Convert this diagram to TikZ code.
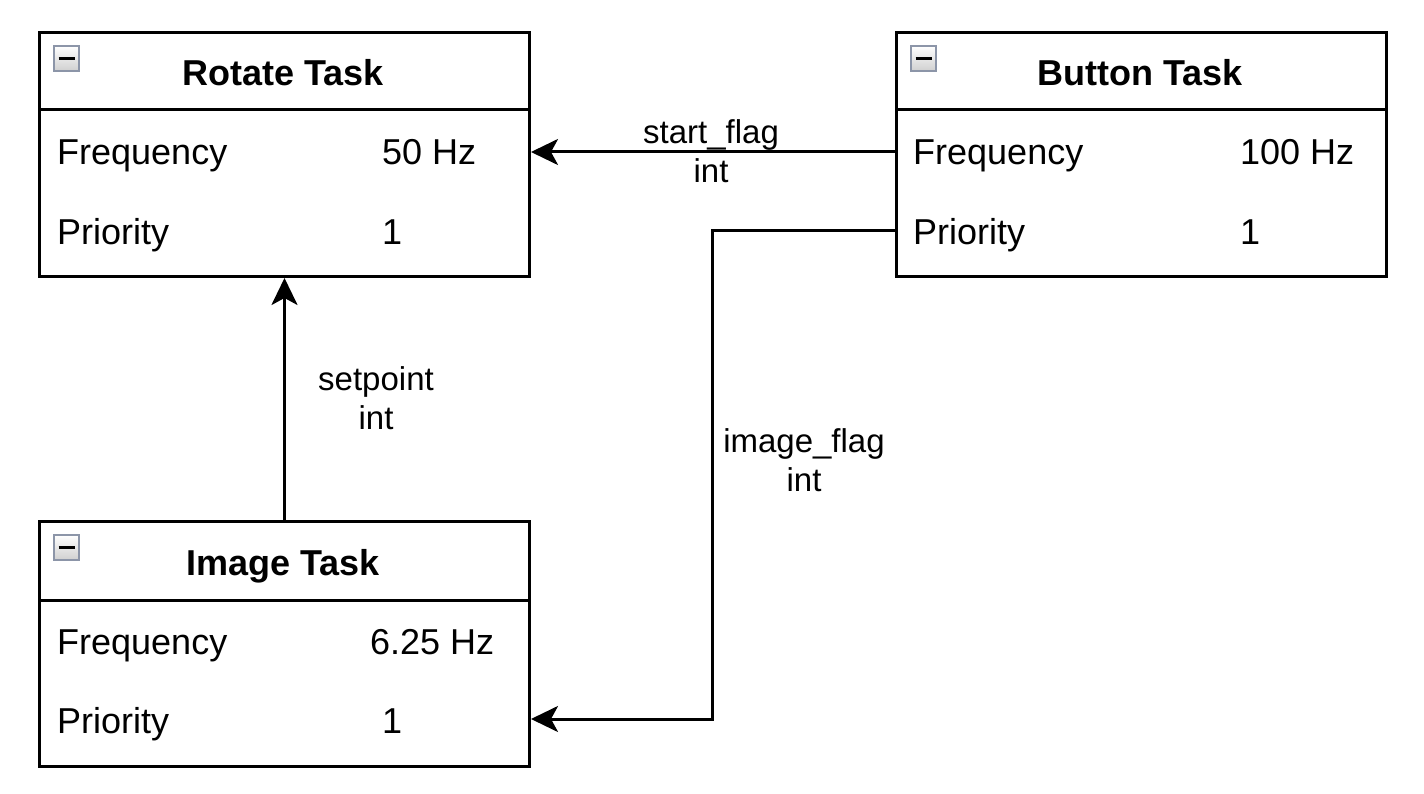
\documentclass[tikz,border=0pt]{standalone}
\usepackage{fontspec}
\setmainfont{Liberation Sans}
\usetikzlibrary{arrows.meta,calc}
\newcommand\myrowf{\fontsize{36}{43}\selectfont}
\newcommand\mytitf{\fontsize{36}{43}\selectfont\bfseries}
\newcommand\mylabf{\fontsize{33}{39}\selectfont}
\tikzset{
  taskbox/.style={draw=black, line width=3pt, fill=white, rectangle, inner sep=0pt, anchor=north west},
  rowtxt/.style={inner sep=0pt, anchor=base west, font=\myrowf},
  titletxt/.style={inner sep=0pt, anchor=base, font=\mytitf},
  lbl/.style={inner sep=0pt, align=center, font=\mylabf},
  conn/.style={draw=black, line width=3pt, -{Stealth[length=27pt, width=26pt, inset=7pt]}},
  icon/.style={draw=iconborder, line width=2.5pt, top color=white, bottom color=icongrey, minimum width=25pt, minimum height=25pt, inner sep=0pt, rectangle},
}
\definecolor{iconborder}{HTML}{8C95A8}
\definecolor{icongrey}{HTML}{CFCFCF}
\newcommand\myicon[2]{%
  \node[icon] (#1) at (#2) {};
  \draw[line width=3pt] ($(#1.center)+(-8,0)$) -- ($(#1.center)+(8,0)$);
}
\begin{document}
\begin{tikzpicture}[x=1pt, y=-1pt]
\useasboundingbox[fill=white] (0,0) rectangle (1424,794);

% Rotate Task
\node[taskbox, minimum width=490pt, minimum height=244pt] (rot) at (38,31) {};
\draw[line width=3pt] (38,110) -- (528,110);
\myicon{roticon}{66.5,58.5}
\node[titletxt] (rottitle) at (283,86) {Rotate Task};
\node[rowtxt] (rotf) at (57,165) {Frequency};
\node[rowtxt] (rotfv) at (382,165) {50 Hz};
\node[rowtxt] (rotp) at (57,245) {Priority};
\node[rowtxt] (rotpv) at (382,245) {1};

% Button Task
\node[taskbox, minimum width=490pt, minimum height=244pt] (btn) at (895,31) {};
\draw[line width=3pt] (895,110) -- (1385,110);
\myicon{btnicon}{923.5,58.5}
\node[titletxt] (btntitle) at (1140,86) {Button Task};
\node[rowtxt] (btnf) at (913,165) {Frequency};
\node[rowtxt] (btnfv) at (1240,165) {100 Hz};
\node[rowtxt] (btnp) at (913,245) {Priority};
\node[rowtxt] (btnpv) at (1240,245) {1};

% Image Task
\node[taskbox, minimum width=490pt, minimum height=245pt] (img) at (38,520) {};
\draw[line width=3pt] (38,600) -- (528,600);
\myicon{imgicon}{66.5,547.5}
\node[titletxt] (imgtitle) at (283,575) {Image Task};
\node[rowtxt] (imgf) at (57,654) {Frequency};
\node[rowtxt] (imgfv) at (370,654) {6.25 Hz};
\node[rowtxt] (imgp) at (57,733) {Priority};
\node[rowtxt] (imgpv) at (382,733) {1};

% connectors
\coordinate (sfy) at (0,152);
\coordinate (ify) at (0,231);
\coordinate (iky) at (0,719);
\coordinate (bend1) at (712,231);
\coordinate (bend2) at (712,719);

\draw[conn] (btn.west |- sfy) -- (rot.east |- sfy);
\node[lbl] (sflbl) at (711,151) {start\_flag\\int};

\draw[conn] (img.north) -- (rot.south);
\node[lbl] (splbl) at (376,398) {setpoint\\int};

\draw[conn] (btn.west |- ify) -- (bend1) -- (bend2) -- (img.east |- iky);
\node[lbl] (iflbl) at (804,460) {image\_flag\\int};
\end{tikzpicture}
\end{document}
